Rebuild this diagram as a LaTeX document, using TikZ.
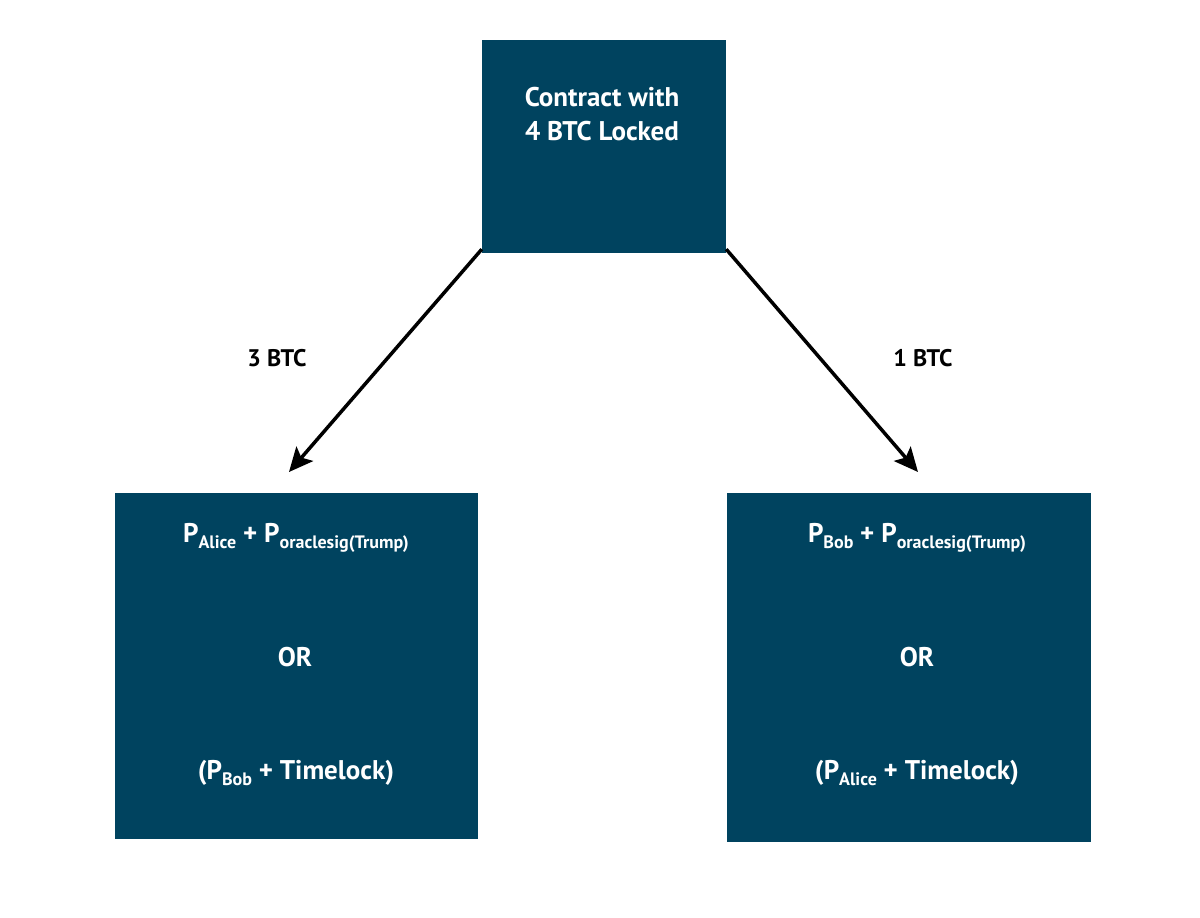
\documentclass[tikz,border=0pt]{standalone}
\usepackage{fontspec}
\setmainfont{PT Sans}
\usetikzlibrary{arrows.meta}
\definecolor{boxblue}{HTML}{00435F}
\newcommand{\sbs}[1]{\raisebox{-0.25em}{\fontsize{18}{18}\selectfont #1}}
\begin{document}
\begin{tikzpicture}[x=1pt,y=-1pt,
  blockbox/.style={fill=boxblue,draw=none,inner sep=0pt},
  maintext/.style={text=white,font=\fontsize{27}{34}\selectfont\bfseries,inner sep=0pt,anchor=center},
  lbltext/.style={text=black,font=\fontsize{24}{28}\selectfont\bfseries,inner sep=0pt},
  conn/.style={line width=3.5pt,-{Triangle[length=24pt,width=22pt,inset=5pt]}}]
\useasboundingbox (0,0) rectangle (1200,918);
\fill[white] (0,0) rectangle (1200,918);
% boxes
\node[blockbox,minimum width=244pt,minimum height=213pt] (top) at (604,146.5) {};
\node[blockbox,minimum width=363pt,minimum height=346pt] (left) at (296.5,666) {};
\node[blockbox,minimum width=364pt,minimum height=349pt] (right) at (909,667.5) {};
% top text
\node[maintext,align=center] (toptext) at (602,114) {Contract with\\4 BTC Locked};
% left text
\node[maintext] (l1) at (296,538) {P\sbs{Alice} + P\sbs{oraclesig(Trump)}};
\node[maintext] (l2) at (295,657) {OR};
\node[maintext] (l3) at (296,773) {(P\sbs{Bob} + Timelock)};
% right text
\node[maintext] (r1) at (917,538) {P\sbs{Bob} + P\sbs{oraclesig(Trump)}};
\node[maintext] (r2) at (917,657) {OR};
\node[maintext] (r3) at (917,773) {(P\sbs{Alice} + Timelock)};
% connectors
\coordinate (ltip) at (289,472);
\coordinate (rtip) at (918,472);
\draw[conn] (top.south west) ++(0,-4) -- (ltip);
\draw[conn] (top.south east) ++(0,-4) -- (rtip);
% labels
\node[lbltext] (lab3) at (277,358) {3 BTC};
\node[lbltext] (lab1) at (923,358) {1 BTC};
\end{tikzpicture}
\end{document}
